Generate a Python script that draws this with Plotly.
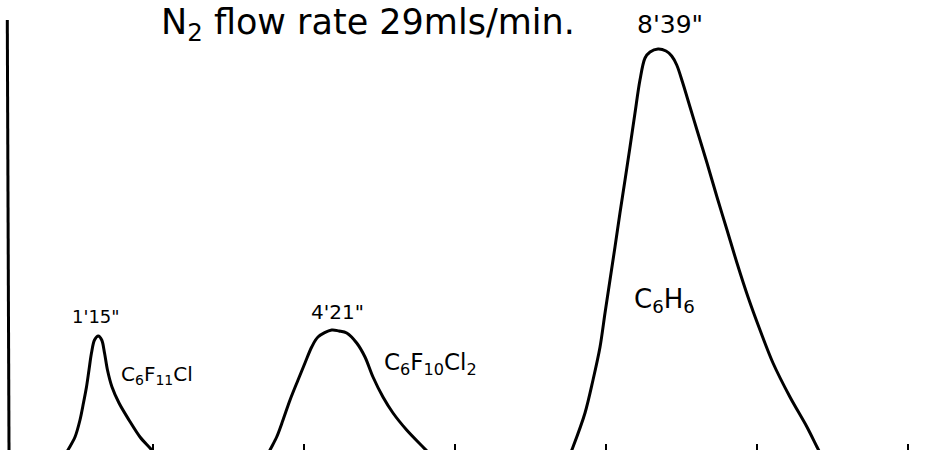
import plotly.graph_objects as go

# Retention time (min) and detector signal (arbitrary units)
peak1_time = [0.84, 0.874, 0.967, 1.033, 1.079, 1.119, 1.152, 1.185, 1.225, 1.275,
              1.321, 1.358, 1.397, 1.457, 1.550, 1.682, 1.828, 1.960, 2.04]
peak1_signal = [0, 5, 18, 35, 52, 68, 85, 102, 115, 119,
                115, 102, 85, 68, 52, 35, 18, 7, 0]

peak2_time = [3.52, 3.55, 3.638, 3.722, 3.815, 3.921, 4.013, 4.102, 4.185, 4.367,
              4.464, 4.566, 4.698, 4.808, 4.914, 5.046, 5.179, 5.360, 5.576, 5.68]
peak2_signal = [0, 5, 18, 35, 55, 75, 92, 108, 118, 125,
                124, 122, 112, 98, 78, 58, 42, 25, 8, 0]

peak3_time = [7.52, 7.563, 7.722, 7.828, 7.921, 7.987, 8.053, 8.119, 8.185, 8.252,
              8.318, 8.384, 8.450, 8.517, 8.583, 8.689, 8.795, 8.870, 8.937, 9.017,
              9.113, 9.205, 9.338, 9.470, 9.603, 9.735, 9.881, 10.040, 10.212,
              10.437, 10.662, 10.795, 10.85]
peak3_signal = [0, 8, 42, 75, 108, 142, 175, 208, 242, 275,
                308, 342, 375, 397, 403, 406, 404, 399, 390, 372,
                348, 325, 292, 258, 225, 192, 158, 125, 92,
                58, 28, 8, 0]

tick_times = [2, 4, 6, 8, 10, 12]

title_text = "N<sub>2</sub> flow rate 29mls/min."
peak_labels = ["1'15\"", "4'21\"", "8'39\""]
compound_labels = ["C<sub>6</sub>F<sub>11</sub>Cl",
                   "C<sub>6</sub>F<sub>10</sub>Cl<sub>2</sub>",
                   "C<sub>6</sub>H<sub>6</sub>"]

FONT = "DejaVu Sans"
LINE = dict(color="black", width=3, shape="spline", smoothing=0.9)

fig = go.Figure()
for t, s in [(peak1_time, peak1_signal), (peak2_time, peak2_signal), (peak3_time, peak3_signal)]:
    fig.add_trace(go.Scatter(x=t, y=s, mode="lines", line=LINE, hoverinfo="skip", showlegend=False))

# vertical signal axis line
fig.add_shape(type="line", x0=0.093, x1=0.07, y0=0, y1=435, xref="x", yref="y",
              line=dict(color="black", width=3))

ann = []
ann.append(dict(text=title_text, x=0.393, y=1.0, xref="paper", yref="paper",
                xanchor="center", yanchor="top", showarrow=False,
                font=dict(family=FONT, size=35, color="black")))
label_pos = [(1.245, 139, 18), (4.45, 143, 20), (8.85, 431, 25)]
for lab, (x, y, sz) in zip(peak_labels, label_pos):
    ann.append(dict(text=lab, x=x, y=y, xanchor="center", yanchor="middle", showarrow=False,
                    font=dict(family=FONT, size=sz, color="black")))
comp_pos = [(2.05, 80, 20), (5.67, 91, 23), (8.77, 155, 26)]
for lab, (x, y, sz) in zip(compound_labels, comp_pos):
    ann.append(dict(text=lab, x=x, y=y, xanchor="center", yanchor="middle", showarrow=False,
                    font=dict(family=FONT, size=sz, color="black")))

fig.update_layout(
    width=936, height=450,
    margin=dict(l=0, r=0, t=0, b=0),
    paper_bgcolor="white", plot_bgcolor="white",
    annotations=ann,
    xaxis=dict(range=[-0.0265, 12.371], showgrid=False, zeroline=False, showline=False,
               ticks="inside", ticklen=6, tickwidth=2, tickcolor="black",
               tickvals=tick_times, showticklabels=False, fixedrange=True),
    yaxis=dict(range=[5, 455], showgrid=False, zeroline=False, showline=False,
               showticklabels=False, ticks="", fixedrange=True),
)

fig.write_html("out.html", config={"displayModeBar": False},
               post_script="document.body.style.margin='0px';")
